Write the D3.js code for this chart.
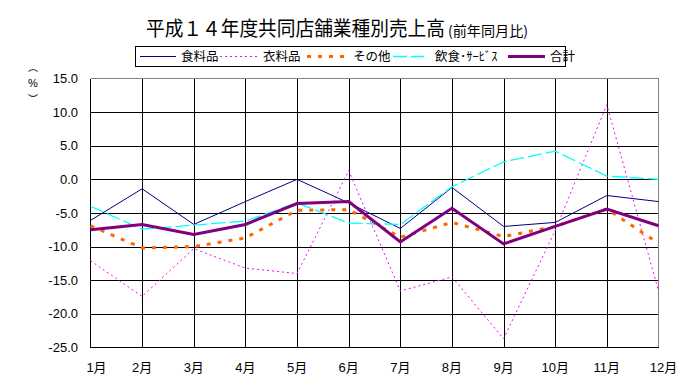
<!DOCTYPE html>
<html>
<head>
<meta charset="utf-8">
<script src="https://cdn.jsdelivr.net/npm/d3@7"></script>
<style>
  body { margin: 0; background: #fff; }
  text { font-family: "Liberation Sans", "Noto Sans CJK JP", sans-serif; }
  .jp { font-family: "Noto Sans CJK JP", sans-serif; }
</style>
</head>
<body>
<svg id="chart"></svg>
<script>
const months = ["1月", "2月", "3月", "4月", "5月", "6月", "7月", "8月", "9月", "10月", "11月", "12月"];
const yTicks = [15, 10, 5, 0, -5, -10, -15, -20, -25];

const food = [-6.1, -1.4, -6.7, -3.3, 0.0, -3.5, -7.3, -1.2, -7.0, -6.4, -2.4, -3.3];
const clothes = [-12.1, -17.4, -10.3, -13.2, -14.0, 1.3, -16.6, -14.5, -23.7, -7.6, 11.1, -16.6];
const other = [-6.9, -10.2, -10.0, -8.7, -4.6, -4.5, -8.6, -6.4, -8.5, -7.0, -4.4, -9.5];
const dining = [-4.0, -7.4, -6.8, -6.2, -3.5, -6.5, -6.7, -1.1, 2.6, 4.2, 0.5, 0.0];
const total = [-7.5, -6.7, -8.2, -6.7, -3.6, -3.3, -9.3, -4.3, -9.6, -7.0, -4.4, -6.9];

const series = [
  { name: "食料品", values: food, color: "#000080", width: 1, dash: null },
  { name: "衣料品", values: clothes, color: "#FF00FF", width: 1, dash: "2,3" },
  { name: "その他", values: other, color: "#FF6600", width: 3, dash: "4,7" },
  { name: "飲食･ｻｰﾋﾞｽ", values: dining, color: "#00FFFF", width: 1.3, dash: "14,4" },
  { name: "合計", values: total, color: "#800080", width: 3, dash: null }
];

const W = 691, H = 391;
const pLeft = 90.5, pRight = 658.5, pTop = 78.5, pBottom = 347.5;

const svg = d3.select("#chart").attr("width", W).attr("height", H);

const x = d3.scalePoint().domain(months).range([pLeft, pRight]);
const y = d3.scaleLinear().domain([-25, 15]).range([pBottom, pTop]);

// title (main part + smaller parenthetical)
const title = svg.append("text")
  .attr("class", "jp")
  .attr("x", 146).attr("y", 36);
title.append("tspan")
  .attr("textLength", 299).attr("lengthAdjust", "spacingAndGlyphs")
  .style("font-size", "20px")
  .text("平成１４年度共同店舗業種別売上高");
title.append("tspan")
  .attr("dx", 3)
  .attr("textLength", 80).attr("lengthAdjust", "spacingAndGlyphs")
  .style("font-size", "14px")
  .text("(前年同月比)");

// gridlines
const grid = svg.append("g").attr("shape-rendering", "crispEdges");
grid.selectAll(".h")
  .data(yTicks.filter(d => d !== 15 && d !== -25))
  .join("line")
  .attr("x1", pLeft).attr("x2", pRight)
  .attr("y1", d => Math.round(y(d)) + 0.5).attr("y2", d => Math.round(y(d)) + 0.5)
  .attr("stroke", "#000");
grid.selectAll(".v")
  .data(months.slice(1, 11))
  .join("line")
  .attr("x1", d => Math.round(x(d)) + 0.5).attr("x2", d => Math.round(x(d)) + 0.5)
  .attr("y1", pTop).attr("y2", pBottom)
  .attr("stroke", "#000");

// frame: top/right gray, left/bottom black
grid.append("line").attr("x1", pLeft).attr("x2", pRight).attr("y1", pTop).attr("y2", pTop).attr("stroke", "#808080");
grid.append("line").attr("x1", pRight).attr("x2", pRight).attr("y1", pTop).attr("y2", pBottom).attr("stroke", "#808080");
grid.append("line").attr("x1", pLeft).attr("x2", pLeft).attr("y1", pTop).attr("y2", pBottom).attr("stroke", "#000");
grid.append("line").attr("x1", pLeft).attr("x2", pRight).attr("y1", pBottom).attr("y2", pBottom).attr("stroke", "#000");

// y tick labels
svg.append("g").selectAll("text")
  .data(yTicks)
  .join("text")
  .attr("x", 78)
  .attr("y", d => y(d) + 4.5)
  .attr("text-anchor", "end")
  .style("font-size", "13px")
  .text(d => d3.format(".1f")(d).replace("−", "-"));

// x labels
svg.append("g").selectAll("text")
  .data(months)
  .join("text")
  .attr("x", (d, i) => x(d) + (i === 0 ? 6 : i === 11 ? 5 : 0))
  .attr("y", 372)
  .attr("text-anchor", "middle")
  .style("font-size", "13px")
  .text(d => d);

// y axis title (%), vertical brackets
const yt = svg.append("g").attr("transform", "translate(33,0)");
yt.append("text").attr("class", "jp").attr("x", 0).attr("y", 71).attr("text-anchor", "middle").style("font-size", "10px").text("︵");
yt.append("text").attr("x", 0).attr("y", 87).attr("text-anchor", "middle").style("font-size", "11px").text("%");
yt.append("text").attr("class", "jp").attr("x", 0).attr("y", 103).attr("text-anchor", "middle").style("font-size", "10px").text("︶");

// series lines
const line = d3.line().x((d, i) => x(months[i])).y(d => y(d));
svg.append("g").selectAll("path")
  .data(series)
  .join("path")
  .attr("d", d => line(d.values))
  .attr("fill", "none")
  .attr("stroke", d => d.color)
  .attr("stroke-width", d => d.width)
  .attr("stroke-dasharray", d => d.dash)
  .attr("stroke-linejoin", "miter");

// legend
const legend = svg.append("g");
legend.append("rect")
  .attr("x", 135.5).attr("y", 46.5).attr("width", 430).attr("height", 20)
  .attr("fill", "#fff").attr("stroke", "#000");
const legX = [140, 220, 307, 393, 508];
const legW = [36, 38, 41, 31, 37];
series.forEach((s, i) => {
  legend.append("line")
    .attr("x1", legX[i]).attr("x2", legX[i] + legW[i])
    .attr("y1", 56.5).attr("y2", 56.5)
    .attr("stroke", s.color)
    .attr("stroke-width", s.width)
    .attr("stroke-dasharray", s.dash);
  legend.append("text")
    .attr("class", "jp")
    .attr("x", legX[i] + legW[i] + (i === 3 ? 11 : 5))
    .attr("y", 61)
    .style("font-size", "12.5px")
    .text(s.name);
});
</script>
</body>
</html>
